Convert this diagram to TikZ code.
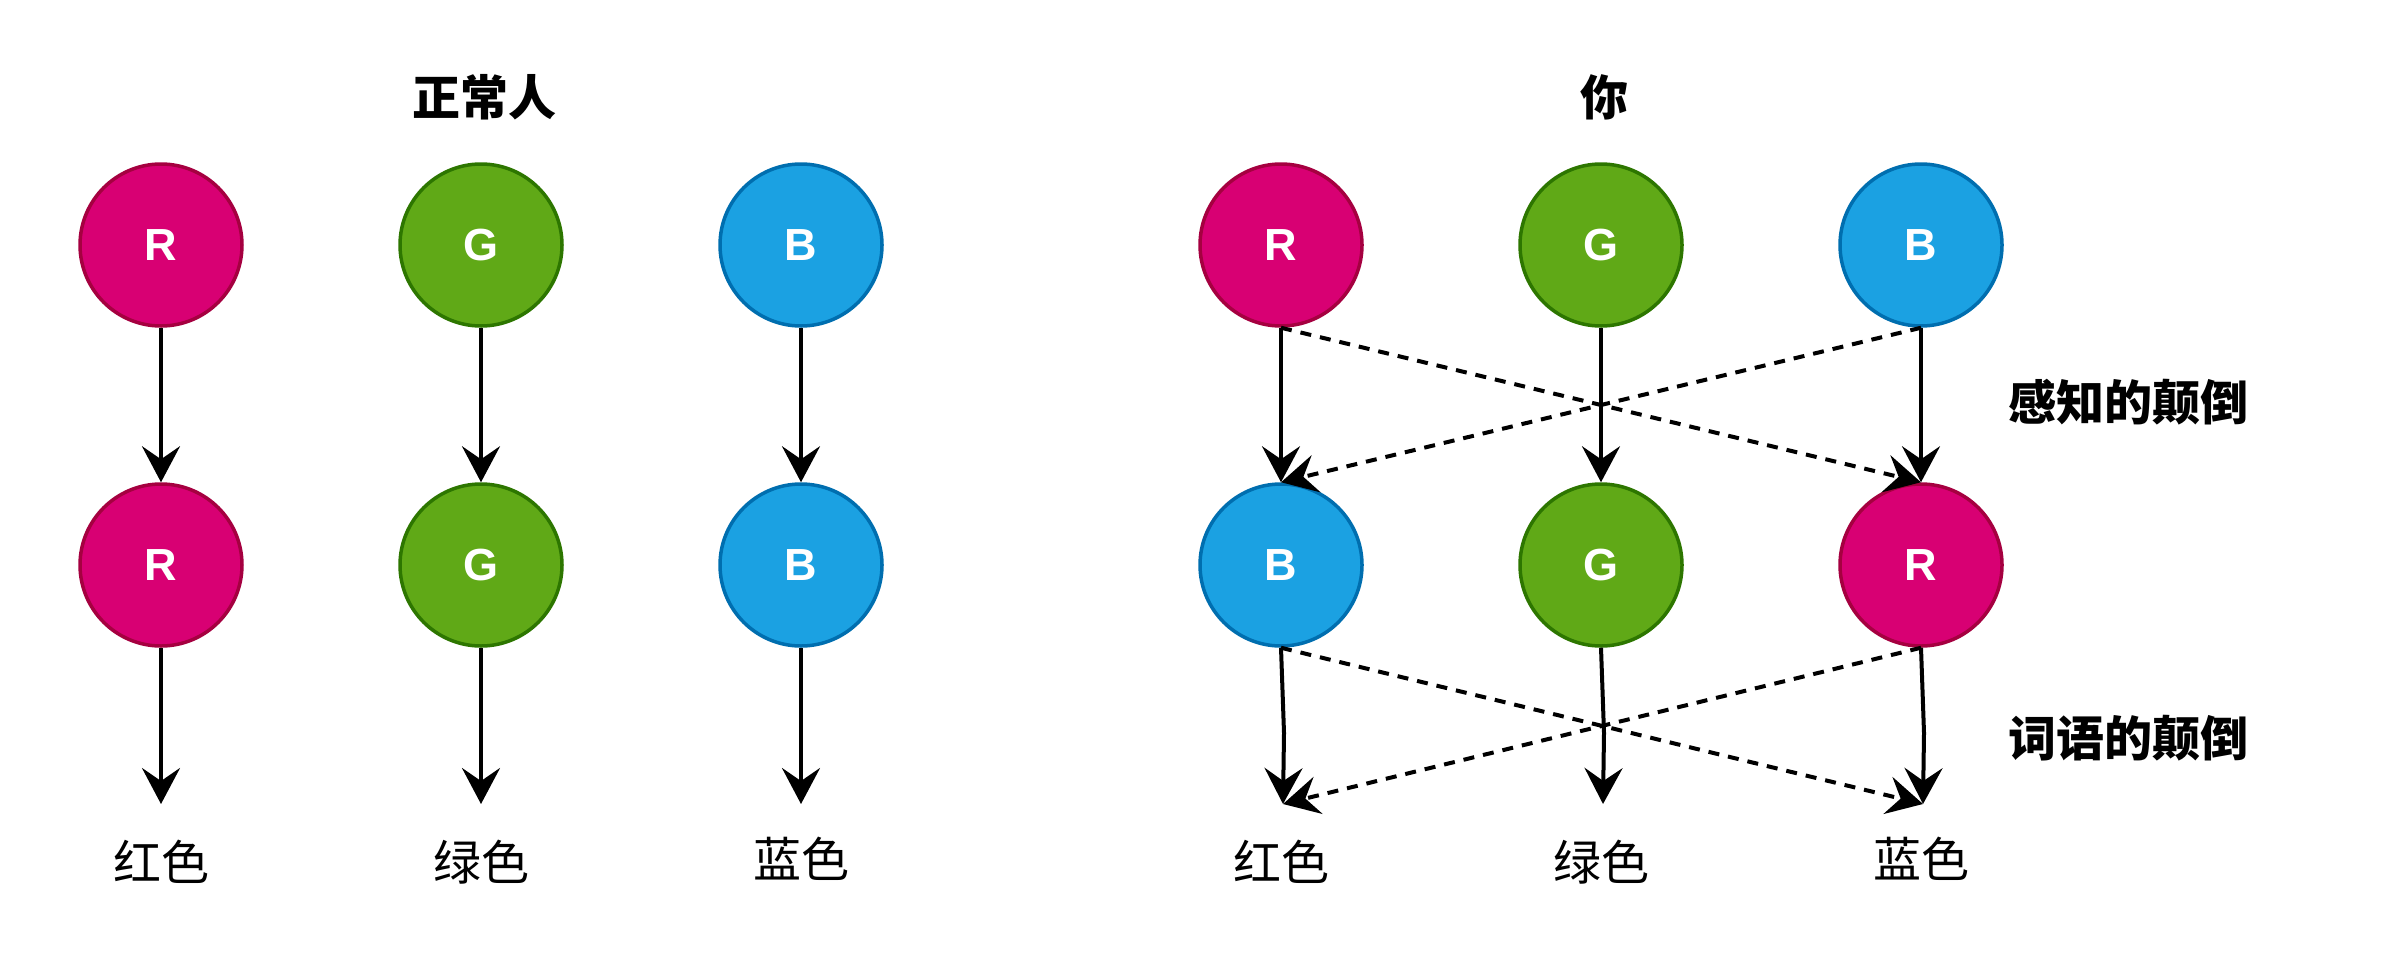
\documentclass[tikz,border=0pt]{standalone}
\usepackage{fontspec}
\setmainfont{Liberation Sans}
\newfontfamily\cjk{Noto Sans CJK SC}
\usetikzlibrary{arrows.meta}
\definecolor{rfill}{HTML}{D80073}
\definecolor{rdraw}{HTML}{A50040}
\definecolor{gfill}{HTML}{60A917}
\definecolor{gdraw}{HTML}{2D7600}
\definecolor{bfill}{HTML}{1BA1E2}
\definecolor{bdraw}{HTML}{006EAF}
\tikzset{
  ball/.style={circle,minimum size=162pt,inner sep=0pt,line width=3.5pt,text=white,font=\fontsize{45}{48}\selectfont\bfseries},
  rball/.style={ball,fill=rfill,draw=rdraw},
  gball/.style={ball,fill=gfill,draw=gdraw},
  bball/.style={ball,fill=bfill,draw=bdraw},
  arr/.style={line width=4pt,-{Stealth[length=36pt,width=38pt,inset=13pt]}},
  darr/.style={arr,dash pattern=on 11pt off 9pt},
  lbl/.style={font=\cjk\fontsize{48}{52}\selectfont},
  ttl/.style={font=\cjk\bfseries\fontsize{48}{52}\selectfont}
}
\begin{document}
\begin{tikzpicture}[x=1pt,y=-1pt]
\useasboundingbox (0,0) rectangle (2400,964);
% titles
\node[ttl] (t1) at (484,97) {正常人};
\node[ttl] (t2) at (1604,97) {你};
\node[ttl] (t3) at (2128,402) {感知的颠倒};
\node[ttl] (t4) at (2128,738) {词语的颠倒};
% left group
\node[rball] (lr1) at (161,245) {R};
\node[gball] (lg1) at (481,245) {G};
\node[bball] (lb1) at (801,245) {B};
\node[rball] (lr2) at (161,565) {R};
\node[gball] (lg2) at (481,565) {G};
\node[bball] (lb2) at (801,565) {B};
\node[lbl] (la) at (161,862) {红色};
\node[lbl] (lb) at (481,862) {绿色};
\node[lbl] (lc) at (801,859) {蓝色};
\coordinate (pa) at (161,804);
\coordinate (pb) at (481,804);
\coordinate (pc) at (801,804);
\draw[arr] (lr1.south) -- (lr2.north);
\draw[arr] (lg1.south) -- (lg2.north);
\draw[arr] (lb1.south) -- (lb2.north);
\draw[arr] (lr2.south) -- (pa);
\draw[arr] (lg2.south) -- (pb);
\draw[arr] (lb2.south) -- (pc);
% right group
\node[rball] (rr1) at (1281,245) {R};
\node[gball] (rg1) at (1601,245) {G};
\node[bball] (rb1) at (1921,245) {B};
\node[bball] (rb2) at (1281,565) {B};
\node[gball] (rg2) at (1601,565) {G};
\node[rball] (rr2) at (1921,565) {R};
\node[lbl] (ra) at (1281,862) {红色};
\node[lbl] (rb) at (1601,862) {绿色};
\node[lbl] (rc) at (1921,859) {蓝色};
\coordinate (qa) at (1283,804);
\coordinate (qb) at (1603,804);
\coordinate (qc) at (1923,804);
\coordinate (ka) at (1284,733);
\coordinate (kb) at (1604,733);
\coordinate (kc) at (1924,733);
\draw[arr] (rr1.south) -- (rb2.north);
\draw[arr] (rg1.south) -- (rg2.north);
\draw[arr] (rb1.south) -- (rr2.north);
\draw[darr] (rr1.south) -- (rr2.north);
\draw[darr] (rb1.south) -- (rb2.north);
\draw[arr] (rb2.south) -- (ka) -- (qa);
\draw[arr] (rg2.south) -- (kb) -- (qb);
\draw[arr] (rr2.south) -- (kc) -- (qc);
\draw[darr] (rb2.south) -- (qc);
\draw[darr] (rr2.south) -- (qa);
\end{tikzpicture}
\end{document}
